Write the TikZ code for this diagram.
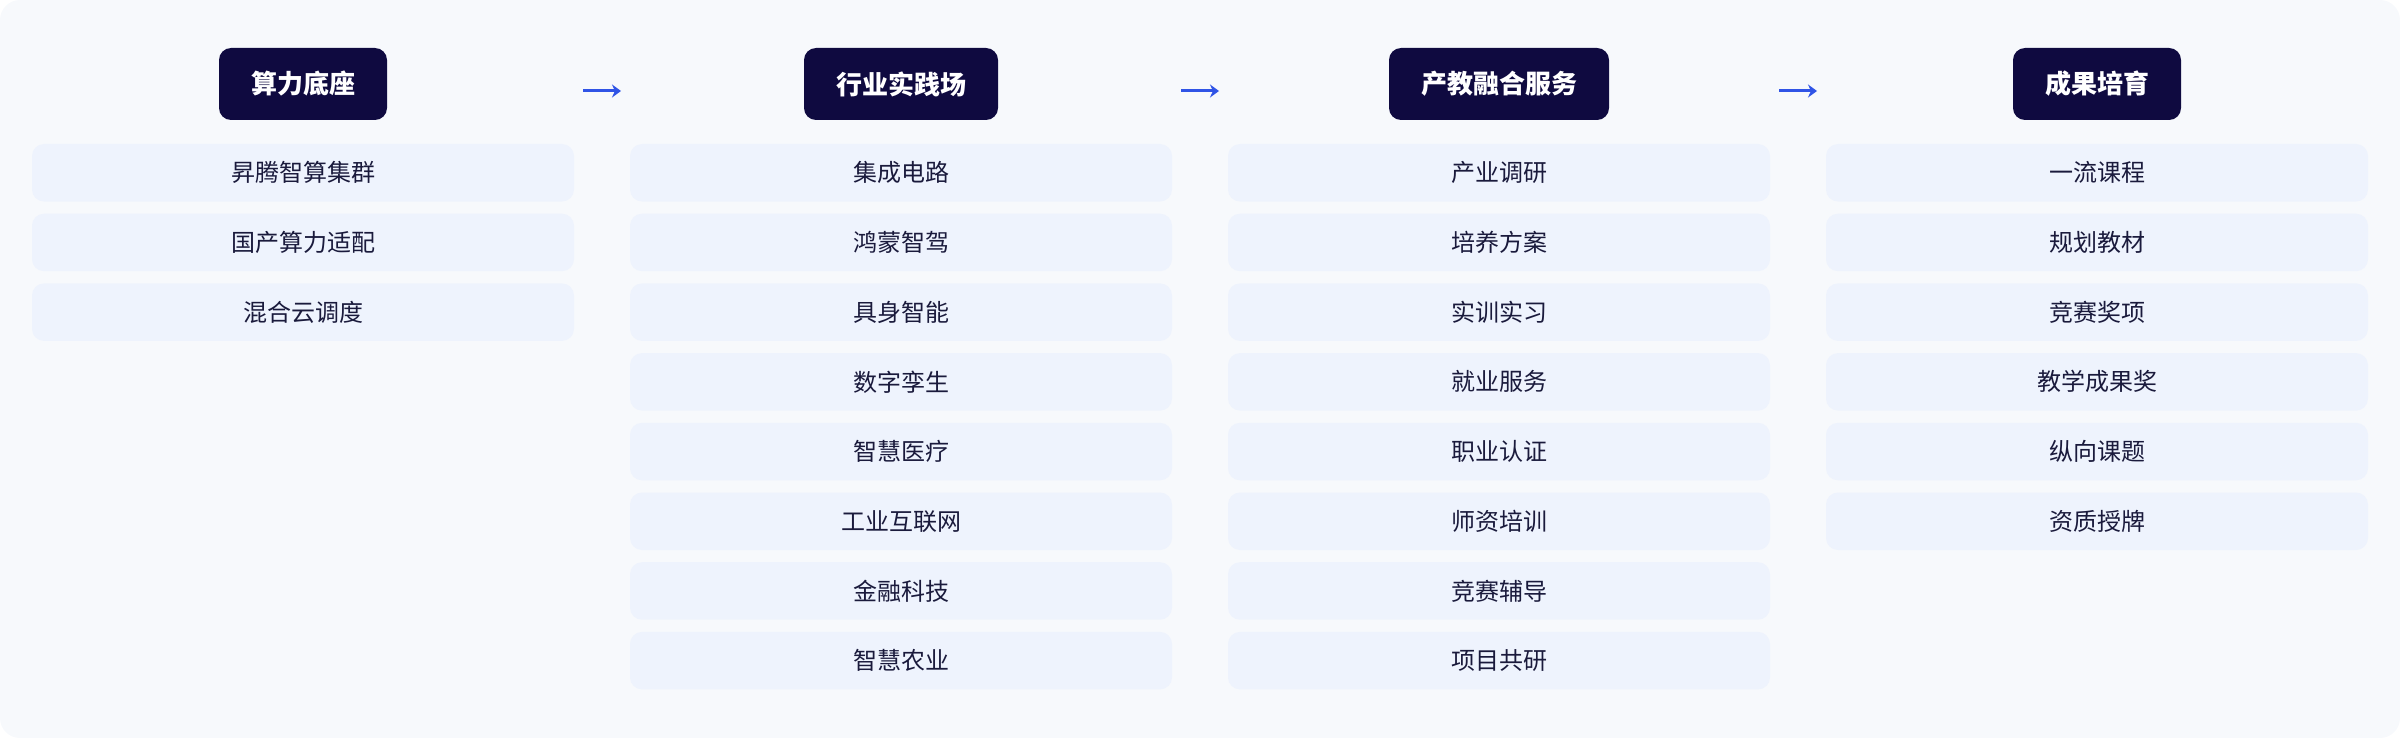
\documentclass[tikz,border=0pt]{standalone}
\usepackage{fontspec}
\setmainfont{Noto Sans CJK SC}
\usetikzlibrary{arrows.meta}
\definecolor{bgfill}{HTML}{F7F9FC}
\definecolor{itemfill}{HTML}{EEF3FD}
\definecolor{headfill}{HTML}{0F0A40}
\definecolor{itemtext}{HTML}{1A1A3C}
\definecolor{flowblue}{HTML}{3054E6}
\tikzset{>={Stealth[length=4.5pt,width=6.5pt]}, line width=1.0pt}

\begin{document}
\begin{tikzpicture}[x=0.5pt,y=-0.5pt,
    head/.style={rounded corners=6pt,fill=headfill,text=white,inner xsep=16pt,inner ysep=0pt,
      minimum height=36pt,font=\fontsize{13pt}{15pt}\selectfont\bfseries},
    item/.style={rounded corners=6pt,fill=itemfill,text=itemtext,inner sep=0pt,
      minimum width=271pt,minimum height=28.75pt,font=\fontsize{12pt}{14pt}\selectfont},
    flow/.style={->,draw=flowblue,line width=1.5pt}]
  \def\colA{303}
  \def\colB{901}
  \def\colC{1499}
  \def\colD{2097}
  \def\rowy{172.75}
  \def\gap{69.7}

  % background
  \useasboundingbox (0,0) rectangle (2400,738);
  \fill[bgfill,rounded corners=10pt] (0,0) rectangle (2400,738);

  % stage headers
  \node[head] (hA) at (\colA,84) {算力底座};
  \node[head] (hB) at (\colB,84) {行业实践场};
  \node[head] (hC) at (\colC,84) {产教融合服务};
  \node[head] (hD) at (\colD,84) {成果培育};

  % arrows between stages
  \coordinate (fA) at (583,91);  \coordinate (tA) at (621,91);
  \coordinate (fB) at (1181,91); \coordinate (tB) at (1219,91);
  \coordinate (fC) at (1779,91); \coordinate (tC) at (1817,91);
  \draw[flow] (fA) -- (tA);
  \draw[flow] (fB) -- (tB);
  \draw[flow] (fC) -- (tC);

  % computing base
  \node[item] (a1) at (\colA,{\rowy}) {昇腾智算集群};
  \node[item] (a2) at (\colA,{\rowy+\gap}) {国产算力适配};
  \node[item] (a3) at (\colA,{\rowy+2*\gap}) {混合云调度};

  % industry practice
  \node[item] (b1) at (\colB,{\rowy}) {集成电路};
  \node[item] (b2) at (\colB,{\rowy+\gap}) {鸿蒙智驾};
  \node[item] (b3) at (\colB,{\rowy+2*\gap}) {具身智能};
  \node[item] (b4) at (\colB,{\rowy+3*\gap}) {数字孪生};
  \node[item] (b5) at (\colB,{\rowy+4*\gap}) {智慧医疗};
  \node[item] (b6) at (\colB,{\rowy+5*\gap}) {工业互联网};
  \node[item] (b7) at (\colB,{\rowy+6*\gap}) {金融科技};
  \node[item] (b8) at (\colB,{\rowy+7*\gap}) {智慧农业};

  % services
  \node[item] (c1) at (\colC,{\rowy}) {产业调研};
  \node[item] (c2) at (\colC,{\rowy+\gap}) {培养方案};
  \node[item] (c3) at (\colC,{\rowy+2*\gap}) {实训实习};
  \node[item] (c4) at (\colC,{\rowy+3*\gap}) {就业服务};
  \node[item] (c5) at (\colC,{\rowy+4*\gap}) {职业认证};
  \node[item] (c6) at (\colC,{\rowy+5*\gap}) {师资培训};
  \node[item] (c7) at (\colC,{\rowy+6*\gap}) {竞赛辅导};
  \node[item] (c8) at (\colC,{\rowy+7*\gap}) {项目共研};

  % outcomes
  \node[item] (d1) at (\colD,{\rowy}) {一流课程};
  \node[item] (d2) at (\colD,{\rowy+\gap}) {规划教材};
  \node[item] (d3) at (\colD,{\rowy+2*\gap}) {竞赛奖项};
  \node[item] (d4) at (\colD,{\rowy+3*\gap}) {教学成果奖};
  \node[item] (d5) at (\colD,{\rowy+4*\gap}) {纵向课题};
  \node[item] (d6) at (\colD,{\rowy+5*\gap}) {资质授牌};
\end{tikzpicture}
\end{document}
